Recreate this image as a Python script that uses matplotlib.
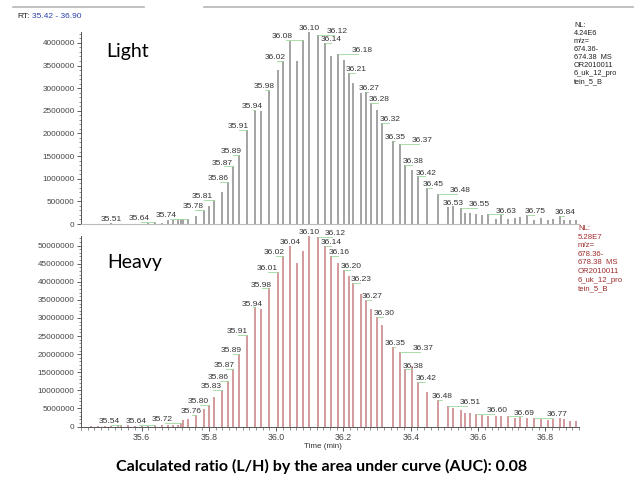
#!/usr/bin/env python3

import matplotlib
matplotlib.use('Agg')
import matplotlib.pyplot as plt
from matplotlib.ticker import MultipleLocator, FuncFormatter
from matplotlib.lines import Line2D

# scan times (min) shared by both extracted ion chromatograms
scan_times = [
    35.45, 35.47, 35.49, 35.51, 35.53, 35.54, 35.56, 35.58, 35.60, 35.62, 35.64, 35.66,
    35.679, 35.692, 35.707, 35.717, 35.724, 35.737, 35.763, 35.786, 35.799, 35.814,
    35.838, 35.858, 35.873, 35.891, 35.913, 35.938, 35.955, 35.978, 36.005, 36.019,
    36.041, 36.061, 36.081, 36.099, 36.124, 36.144, 36.164, 36.183, 36.203, 36.215,
    36.228, 36.253, 36.266, 36.283, 36.301, 36.316, 36.346, 36.369, 36.384, 36.404,
    36.423, 36.448, 36.482, 36.512, 36.525, 36.548, 36.561, 36.575, 36.594, 36.611,
    36.629, 36.654, 36.667, 36.689, 36.709, 36.726, 36.746, 36.766, 36.788, 36.808,
    36.823, 36.843, 36.854, 36.872, 36.892,
]

# intensities, in millions of counts
light_int = [
    0.005, 0.005, 0.01, 0.02, 0.01, 0.01, 0.01, 0.01, 0.01, 0.02, 0.04, 0.02,
    0.08, 0.09, 0.10, 0.10, 0.11, 0.12, 0.18, 0.31, 0.40, 0.53,
    0.70, 0.93, 1.27, 1.53, 2.08, 2.52, 2.49, 2.97, 3.39, 3.61,
    4.04, 3.61, 4.07, 4.24, 4.18, 4.00, 3.71, 3.76, 3.63, 3.34,
    3.12, 2.90, 2.92, 2.67, 2.52, 2.23, 1.83, 1.77, 1.31, 1.20,
    1.05, 0.80, 0.67, 0.38, 0.39, 0.35, 0.24, 0.24, 0.21, 0.20,
    0.21, 0.12, 0.19, 0.12, 0.13, 0.16, 0.20, 0.09, 0.13, 0.09,
    0.11, 0.17, 0.09, 0.08, 0.09,
]

heavy_int = [
    0.1, 0.1, 0.2, 0.2, 0.3, 0.5, 0.3, 0.2, 0.2, 0.2, 0.4, 0.3,
    0.4, 0.4, 0.5, 1.05, 1.8, 2.0, 3.2, 4.7, 5.9, 8.2,
    10.1, 12.7, 16.0, 20.0, 25.3, 32.9, 32.6, 38.2, 42.8, 47.1,
    49.9, 45.3, 48.6, 52.8, 52.4, 49.9, 47.1, 45.1, 43.2, 41.5,
    39.6, 36.6, 34.9, 32.6, 30.3, 28.0, 21.9, 20.7, 15.8, 16.7,
    12.4, 9.6, 7.3, 5.7, 5.0, 4.6, 3.8, 3.6, 3.5, 3.2,
    2.9, 2.8, 2.8, 2.8, 2.3, 2.6, 2.3, 2.3, 2.0, 1.8,
    2.0, 2.3, 2.0, 1.4, 1.6,
]

light_labels = ['35.51', '35.64', '35.74', '35.78', '35.81', '35.86', '35.87', '35.89',
                '35.91', '35.94', '35.98', '36.02', '36.08', '36.10', '36.12', '36.14',
                '36.18', '36.21', '36.27', '36.28', '36.32', '36.35', '36.37', '36.38',
                '36.42', '36.45', '36.48', '36.53', '36.55', '36.63', '36.75', '36.84']
heavy_labels = ['35.54', '35.64', '35.72', '35.76', '35.80', '35.83', '35.86', '35.87',
                '35.89', '35.91', '35.94', '35.98', '36.01', '36.02', '36.04', '36.10',
                '36.12', '36.14', '36.16', '36.20', '36.23', '36.27', '36.30', '36.35',
                '36.37', '36.38', '36.42', '36.48', '36.51', '36.60', '36.69', '36.77']

light_info = 'NL:\n4.24E6\nm/z=\n674.36-\n674.38  MS\nOR2010011\n6_uk_12_pro\ntein_5_B'
heavy_info = 'NL:\n5.28E7\nm/z=\n678.36-\n678.38  MS\nOR2010011\n6_uk_12_pro\ntein_5_B'
caption = 'Calculated ratio (L/H) by the area under curve (AUC): 0.08'

# horizontal label shifts (pixels), as placed by the acquisition software
light_shift = [0, -16, -21, -11, -11, -10, -11, -8, -9, -3, -5, -7, -21, 0, 19, 7,
               24, 8, 3, 8, 8, 3, 22, 8, 8, 6, 22, 0, 19, 18, 8, 5]
heavy_shift = [-12, -19, -19, -5, -10, -10, -10, -9, -8, -10, -3, -8, -11, -8, 0, 0,
               17, 7, 8, 7, 8, 6, 7, 3, 23, 8, 8, 4, 22, 21, 16, 23]

XMIN, XMAX = 35.42, 36.90
W, H = 643, 479
AX_L, AX_R = 81, 579
PX_PER_MIN = (AX_R - AX_L) / (XMAX - XMIN)

LABEL_FONT = ['Liberation Sans', 'DejaVu Sans']
TITLE_FONT = ['Lato', 'DejaVu Sans']


def fig_rect(top_px, bottom_px):
    return [AX_L / W, (H - bottom_px) / H, (AX_R - AX_L) / W, (bottom_px - top_px) / H]


def draw_panel(ax, values, scale, ymax, color, labels, shifts, major, minor):
    vals = [v * scale for v in values]
    ax.vlines(scan_times, 0, vals, color=color, linewidth=1.1)
    ax.set_xlim(XMIN, XMAX)
    ax.set_ylim(0, ymax)

    for lab, dx in zip(labels, shifts):
        t = float(lab)
        i = min(range(len(scan_times)), key=lambda k: abs(scan_times[k] - t))
        x, y = scan_times[i], vals[i]
        if dx != 0:
            # leader line from the stick apex toward its label
            ax.plot([x, x + 0.85 * dx / PX_PER_MIN], [y, y], color='#9ad89a',
                    linewidth=0.6, clip_on=False, zorder=3)
        ax.annotate(lab, xy=(x, y), xytext=(dx * 0.72, 1.3), textcoords='offset points',
                    ha='center', va='baseline', fontsize=6, color='#333333',
                    family=LABEL_FONT, annotation_clip=False)

    ax.yaxis.set_major_locator(MultipleLocator(major))
    ax.yaxis.set_minor_locator(MultipleLocator(minor))
    ax.yaxis.set_major_formatter(FuncFormatter(lambda v, p: '%d' % round(v)))
    ax.tick_params(axis='y', which='major', length=3, width=0.6, pad=1.5,
                   labelsize=5.9, colors='#444444')
    ax.tick_params(axis='y', which='minor', length=1.8, width=0.5, colors='#666666')
    for lab in ax.get_yticklabels():
        lab.set_family(LABEL_FONT)
    for side in ('top', 'right'):
        ax.spines[side].set_visible(False)
    ax.spines['left'].set_color('#555555')
    ax.spines['left'].set_linewidth(0.7)


def main():
    fig = plt.figure(figsize=(W / 100, H / 100), dpi=100)

    ax_l = fig.add_axes(fig_rect(32, 224))
    ax_h = fig.add_axes(fig_rect(235.5, 426.5))

    draw_panel(ax_l, light_int, 1e6, 4.24e6, '#8a8a8a', light_labels, light_shift,
               500000, 100000)
    draw_panel(ax_h, heavy_int, 1e6, 5.28e7, '#c97f84', heavy_labels, heavy_shift,
               5000000, 1000000)

    # light panel: no time axis, just a faint baseline
    ax_l.set_xticks([])
    ax_l.spines['bottom'].set_color('#bbbbbb')
    ax_l.spines['bottom'].set_linewidth(0.8)

    ax_h.spines['bottom'].set_color('#555555')
    ax_h.spines['bottom'].set_linewidth(0.7)
    ax_h.xaxis.set_major_locator(MultipleLocator(0.2))
    ax_h.xaxis.set_minor_locator(MultipleLocator(0.02))
    ax_h.xaxis.set_major_formatter(FuncFormatter(lambda v, p: '%.1f' % v))
    ax_h.tick_params(axis='x', which='major', length=3, width=0.6, pad=2,
                     labelsize=6.3, colors='#444444')
    ax_h.tick_params(axis='x', which='minor', length=1.8, width=0.5, colors='#666666')
    for lab in ax_h.get_xticklabels():
        lab.set_family(LABEL_FONT)
    ax_h.set_xlabel('Time (min)', fontsize=5.8, family=LABEL_FONT, color='#333333')
    ax_h.xaxis.set_label_coords(0.486, -0.085)

    # panel names
    ax_l.text(0.05, 0.90, 'Light', transform=ax_l.transAxes, fontsize=14,
              family=TITLE_FONT, va='center', ha='left')
    ax_h.text(0.053, 0.86, 'Heavy', transform=ax_h.transAxes, fontsize=14,
              family=TITLE_FONT, va='center', ha='left')

    # normalisation / filter info at the right edge
    fig.text(574 / W, 1 - 22 / H, light_info, fontsize=5.3, family=LABEL_FONT,
             color='#222222', va='top', ha='left', linespacing=1.2)
    fig.text(578 / W, 1 - 225 / H, heavy_info, fontsize=5.6, family=LABEL_FONT,
             color='#9e2b2b', va='top', ha='left', linespacing=1.32)

    # range header
    fig.text(17 / W, 1 - 17 / H, 'RT:', fontsize=6, family=LABEL_FONT,
             color='#222222', va='center', ha='left')
    fig.text(32 / W, 1 - 17 / H, '35.42 - 36.90', fontsize=6, family=LABEL_FONT,
             color='#2b3fa8', va='center', ha='left')

    # thin separator at the very top of the screenshot
    for x0, x1 in ((13, 144), (204, 633)):
        fig.add_artist(Line2D([x0 / W, x1 / W], [1 - 7 / H, 1 - 7 / H],
                              color='#b5b5b5', linewidth=1.2))

    fig.text(0.5, 1 - 466 / H, caption, fontsize=11.5, fontweight='bold',
             family=TITLE_FONT, ha='center', va='center')

    fig.savefig('out.png', dpi=100)
    plt.close(fig)


if __name__ == '__main__':
    main()
